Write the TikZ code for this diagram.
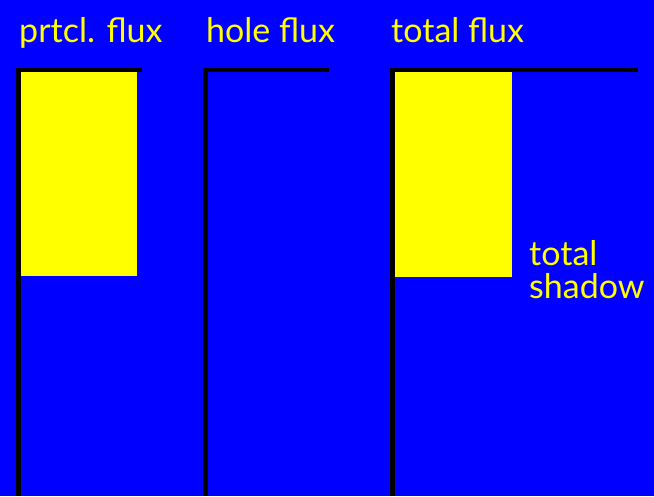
\documentclass[tikz,border=0pt]{standalone}
\usepackage{fontspec}
\setmainfont{Lato}
\usetikzlibrary{positioning}

\definecolor{bgblue}{RGB}{0,0,255}
\definecolor{fluxyellow}{RGB}{255,255,0}

\begin{document}
\begin{tikzpicture}[
  x=1pt, y=-1pt,
  axisline/.style={draw=black, line width=4.5pt, line join=miter},
  fluxbox/.style={fill=fluxyellow},
  fluxlabel/.style={anchor=base west, inner sep=0pt, text=fluxyellow, font=\fontsize{34}{33}\selectfont}
]
  \fill[bgblue] (0,0) rectangle (654,496);
  \useasboundingbox (0,0) rectangle (654,496);

  % corners of the three panels
  \coordinate (pc) at (18.5,70);
  \coordinate (hc) at (205.5,70);
  \coordinate (tc) at (392.5,70);
  \coordinate (pe) at (142,70);
  \coordinate (he) at (329,70);
  \coordinate (te) at (638,70);

  % flux blocks
  \fill[fluxbox] (21,72) rectangle (137,276);
  \fill[fluxbox] (395,72) rectangle (512,277);

  % axes
  \draw[axisline] (pc |- 0,496) -- (pc) -- (pe);
  \draw[axisline] (hc |- 0,496) -- (hc) -- (he);
  \draw[axisline] (tc |- 0,496) -- (tc) -- (te);

  % labels
  \node[fluxlabel] (prtcl) at (19,42) {prtcl. flux};
  \node[fluxlabel] (hole) at (206,42) {hole flux};
  \node[fluxlabel] (total) at (391,42) {total flux};
  \node[fluxlabel, align=left] (shadow) at (529,298) {total\\shadow};
\end{tikzpicture}
\end{document}
